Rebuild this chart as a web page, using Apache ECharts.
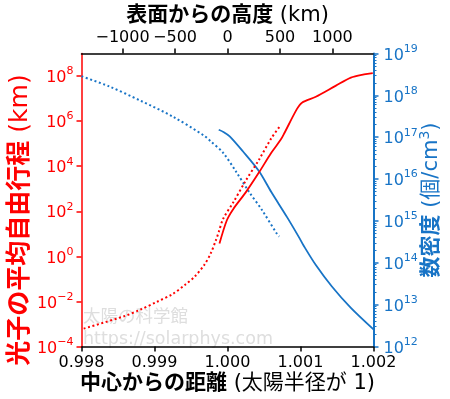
<!DOCTYPE html>
<html>
<head>
<meta charset="utf-8">
<script src="https://cdn.jsdelivr.net/npm/echarts@6/dist/echarts.min.js"></script>
<style>
  html, body { margin: 0; padding: 0; background: #fff; }
  #chart { width: 450px; height: 399px; }
</style>
</head>
<body>
<div id="chart"></div>
<script>
// distance from centre (solar radius = 1)
const deepRadius = [0.998, 0.99837, 0.99881, 0.99925, 0.99968, 0.99977, 0.99994, 1.00012, 1.0003, 1.00047, 1.00069, 1.00071];
const deepDensity = [2.85e18, 1.66e18, 7.43e17, 3.11e17, 1.09e17, 7.98e16, 4.25e16, 1.48e16, 4.81e15, 1.85e15, 4.53e14, 4.29e14];

const atmRadius = [0.99988, 0.99995, 1.00003, 1.00021, 1.00043, 1.0006, 1.00082, 1.00099, 1.00104, 1.00121, 1.00143, 1.00169, 1.002];
const atmDensity = [1.51e17, 1.32e17, 1.05e17, 4.63e16, 1.56e16, 4.9e15, 1.2e15, 3.78e14, 2.62e14, 8.83e13, 2.72e13, 8.36e12, 2.56e12];

// photon mean free path (km)
const mfpAtmRadius = [0.99989, 0.99999, 1.00008, 1.00025, 1.00043, 1.0006, 1.00073, 1.00078, 1.00095, 1.00102, 1.00121, 1.00148, 1.00169, 1.00187, 1.00199];
const mfpAtm = [3.69, 39.0, 127, 689, 5200, 3.94e4, 1.51e5, 2.97e5, 3.39e6, 6.56e6, 1.2e7, 3.66e7, 8.55e7, 1.19e8, 1.36e8];

const mfpDeepRadius = [0.99803, 0.99859, 0.99881, 0.99903, 0.99925, 0.99942, 0.99955, 0.99968, 0.99977, 0.99984, 0.99988, 0.99994, 1.00008, 1.00025, 1.00043, 1.0006, 1.00071];
const mfpDeep = [6.2e-4, 2.24e-3, 4.37e-3, 9.5e-3, 2.14e-2, 5.5e-2, 0.126, 0.41, 1.35, 5.1, 12.0, 46.2, 251, 2290, 1.9e4, 1.74e5, 5.46e5];

const radiusTicks = [0.998, 0.999, 1.0, 1.001, 1.002];
const heightTicks = [-1000, -500, 0, 500, 1000];
const mfpExpTicks = [-4, -2, 0, 2, 4, 6, 8];
const densityExpTicks = [12, 13, 14, 15, 16, 17, 18, 19];

const SOLAR_RADIUS_KM = 695700;
const RED = '#ff0000';
const BLUE = '#1874c6';
const FONT = "'DejaVu Sans', 'Noto Sans CJK JP', sans-serif";

const toLog = (xs, ys) => xs.map((x, i) => [x, Math.log10(ys[i])]);

const minorTicks = [];
for (let n = 12; n < 19; n++) {
  for (let k = 2; k <= 9; k++) minorTicks.push(n + Math.log10(k));
}

const powerLabel = v => '{b|10}{s|' + String(Math.round(v)).replace('-', '\u2212') + '}';
const powerRich = color => ({
  b: { fontSize: 16, lineHeight: 20, color, fontFamily: FONT, verticalAlign: 'bottom' },
  s: { fontSize: 11, lineHeight: 11, color, fontFamily: FONT, verticalAlign: 'top' },
});

const titleRich = (color, size) => ({
  b: { fontSize: size, fontWeight: 'bold', color, fontFamily: FONT, lineHeight: size + 5 },
  n: { fontSize: size, color, fontFamily: FONT, lineHeight: size + 5 },
  s: { fontSize: Math.round(size * 0.65), color, fontFamily: FONT, verticalAlign: 'top', lineHeight: size },
});

const lineSeries = (xs, ys, yAxisIndex, color, dotted) => ({
  type: 'line',
  xAxisIndex: 0,
  yAxisIndex,
  showSymbol: false,
  smooth: 0.3,
  z: yAxisIndex === 0 ? 4 : 3,
  lineStyle: dotted ? { color, width: 2, type: [2, 2.6] } : { color, width: 1.8 },
  data: toLog(xs, ys),
});

const chart = echarts.init(document.getElementById('chart'), null, { renderer: 'canvas' });

chart.setOption({
  animation: false,
  backgroundColor: '#fff',
  grid: { left: 75, right: 70, top: 53, bottom: 50, containLabel: false },
  graphic: [
    { type: 'text', left: 83, top: 309, z: 0, style: { text: '太陽の科学館', fontSize: 17.5, fontFamily: FONT, fill: '#dedede' } },
    { type: 'text', left: 83, top: 331, z: 0, style: { text: 'https://solarphys.com', fontSize: 17.5, fontFamily: FONT, fill: '#dedede' } },
  ],
  xAxis: [
    {
      type: 'value',
      position: 'bottom',
      min: 0.998,
      max: 1.002,
      interval: 0.001,
      name: '{b|中心からの距離}{n| (太陽半径が 1)}',
      nameLocation: 'middle',
      nameGap: 24,
      nameMoveOverlap: false,
      nameTextStyle: { rich: titleRich('#000', 21) },
      axisLine: { onZero: false, lineStyle: { color: '#000', width: 1.5 } },
      axisTick: { inside: false, length: 5, lineStyle: { color: '#000', width: 1.5 }, customValues: radiusTicks },
      axisLabel: { margin: 8, fontSize: 16, color: '#000', fontFamily: FONT, customValues: radiusTicks, formatter: v => v.toFixed(3) },
      splitLine: { show: false },
    },
    {
      type: 'value',
      position: 'top',
      min: -0.002 * SOLAR_RADIUS_KM,
      max: 0.002 * SOLAR_RADIUS_KM,
      name: '{b|表面からの高度}{n| (km)}',
      nameLocation: 'middle',
      nameGap: 25,
      nameMoveOverlap: false,
      nameTextStyle: { rich: titleRich('#000', 21) },
      axisLine: { onZero: false, lineStyle: { color: '#000', width: 1.5 } },
      axisTick: { length: 5, lineStyle: { color: '#000', width: 1.5 }, customValues: heightTicks },
      axisLabel: { margin: 8, fontSize: 16, color: '#000', fontFamily: FONT, customValues: heightTicks, formatter: v => String(v).replace('-', '\u2212') },
      splitLine: { show: false },
    },
  ],
  yAxis: [
    {
      type: 'value',
      position: 'left',
      min: -4,
      max: 9,
      name: '{b|光子の平均自由行程}{n| (km)}',
      nameLocation: 'middle',
      nameRotate: 90,
      nameGap: 46,
      nameMoveOverlap: false,
      nameTextStyle: { rich: titleRich(RED, 25), padding: [0, 40, 0, 0] },
      axisLine: { show: true, onZero: false, lineStyle: { color: RED, width: 1.5 } },
      axisTick: { show: true, length: 5, lineStyle: { color: RED, width: 1.5 }, customValues: mfpExpTicks },
      axisLabel: { margin: 8, customValues: mfpExpTicks, formatter: powerLabel, rich: powerRich(RED) },
      splitLine: { show: false },
    },
    {
      type: 'value',
      position: 'right',
      min: 12,
      max: 19,
      name: '{b|数密度}{n| (個/cm}{s|3}{n|)}',
      nameLocation: 'middle',
      nameRotate: 90,
      nameGap: 45,
      nameMoveOverlap: false,
      nameTextStyle: { rich: titleRich(BLUE, 21) },
      axisLine: { show: true, onZero: false, lineStyle: { color: BLUE, width: 2 } },
      axisTick: { show: true, length: 5, lineStyle: { color: BLUE, width: 1.5 }, customValues: densityExpTicks },
      axisLabel: { margin: 10, customValues: densityExpTicks, formatter: powerLabel, rich: powerRich(BLUE) },
      splitLine: { show: false },
    },
    {
      // minor ticks of the density axis
      type: 'value',
      position: 'right',
      min: 12,
      max: 19,
      axisLine: { show: false, onZero: false },
      axisTick: { show: true, length: 3, lineStyle: { color: BLUE, width: 1 }, customValues: minorTicks },
      axisLabel: { show: false },
      splitLine: { show: false },
    },
  ],
  series: [
    lineSeries(deepRadius, deepDensity, 1, BLUE, true),
    lineSeries(atmRadius, atmDensity, 1, BLUE, false),
    lineSeries(mfpDeepRadius, mfpDeep, 0, RED, true),
    lineSeries(mfpAtmRadius, mfpAtm, 0, RED, false),
  ],
});
</script>
</body>
</html>
